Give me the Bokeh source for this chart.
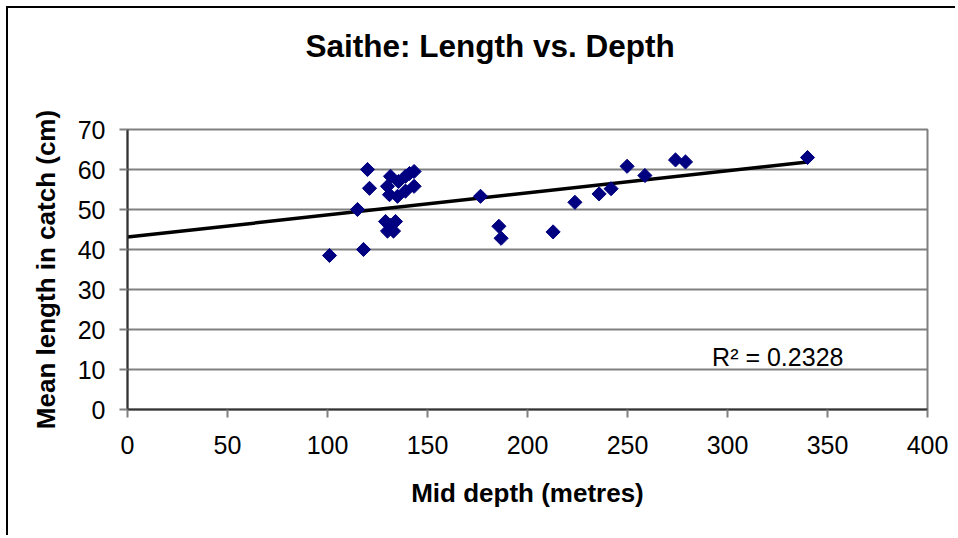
import numpy as np
from bokeh.plotting import figure
from bokeh.models import Range1d, Label, FixedTicker, ColumnDataSource, Title
from bokeh.embed import file_html
from bokeh.resources import INLINE

# Data
depth = [101, 118, 115, 120, 121,
         131.5, 135.5, 139, 141, 143.3,
         130, 131, 135, 139, 143.3,
         129, 134, 130, 133, 131.5,
         176.5, 185.7, 186.8, 212.8, 223.7, 235.8, 241.8, 249.8, 258.7, 274, 279, 340]
length = [38.5, 40, 50, 60, 55.3,
          58.3, 57, 58.3, 59, 59.5,
          55.8, 53.7, 53.3, 54.6, 55.8,
          47, 47, 44.6, 44.6, 46,
          53.3, 45.8, 42.8, 44.4, 51.8, 53.9, 55.2, 60.8, 58.5, 62.4, 61.9, 63]
trend_intercept = 43.1
trend_slope = 0.0553
r_squared_text = "R² = 0.2328"
title_text = "Saithe: Length vs. Depth"
x_ticks = [0, 50, 100, 150, 200, 250, 300, 350, 400]
y_ticks = [0, 10, 20, 30, 40, 50, 60, 70]

FONT = "Liberation Sans"

p = figure(width=949, height=529, output_backend="svg", toolbar_location=None,
           x_range=Range1d(0, 400), y_range=Range1d(0, 70),
           min_border_left=119, min_border_top=120, min_border_right=30, min_border_bottom=128)
p.styles = {"border-left": "2px solid black", "border-top": "2px solid black",
            "margin-left": "6px", "margin-top": "6px"}
p.background_fill_color = "white"
p.border_fill_color = "white"
p.outline_line_color = "#808080"
p.outline_line_width = 2

# spacer (nearest the frame) then the real title further out
p.add_layout(Title(text=" ", text_font_size="1px", standoff=46), "above")
p.add_layout(Title(text=title_text, text_font=FONT, text_font_size="31.5px",
                   text_font_style="bold", text_color="black", align="left",
                   offset=178, standoff=34), "above")

p.xgrid.visible = False
p.ygrid.grid_line_color = "#808080"
p.ygrid.grid_line_width = 2
p.ygrid.ticker = FixedTicker(ticks=y_ticks)

for ax, ticks in ((p.xaxis, x_ticks), (p.yaxis, y_ticks)):
    ax.ticker = FixedTicker(ticks=ticks)
    ax.axis_line_color = "#333333"
    ax.axis_line_width = 2
    ax.major_tick_line_color = "#808080"
    ax.major_tick_line_width = 2
    ax.major_tick_out = 8
    ax.major_tick_in = 0
    ax.minor_tick_line_color = None
    ax.major_label_text_font = FONT
    ax.major_label_text_font_size = "25px"
    ax.major_label_text_color = "black"
    ax.axis_label_text_font = FONT
    ax.axis_label_text_font_size = "26px"
    ax.axis_label_text_font_style = "bold"
    ax.axis_label_text_color = "black"

p.xaxis.axis_label = "Mid depth (metres)"
p.yaxis.axis_label = "Mean length in catch (cm)"
p.xaxis.major_label_standoff = 18
p.yaxis.major_label_standoff = 14
p.xaxis.axis_label_standoff = 21
p.yaxis.axis_label_standoff = 14

# trend line
tx = np.array([0, max(depth)])
ty = trend_intercept + trend_slope * tx
p.line(tx, ty, line_color="black", line_width=3.5)

src = ColumnDataSource(dict(x=depth, y=length))
p.scatter("x", "y", source=src, marker="square", angle=np.pi / 4, size=10,
          fill_color="#000080", line_color="#000080")

p.add_layout(Label(x=292.3, y=13.2, text=r_squared_text, text_font=FONT,
                   text_font_size="25px", text_color="black",
                   text_align="left", text_baseline="alphabetic"))

open("out.html", "w").write(file_html(p, INLINE))
